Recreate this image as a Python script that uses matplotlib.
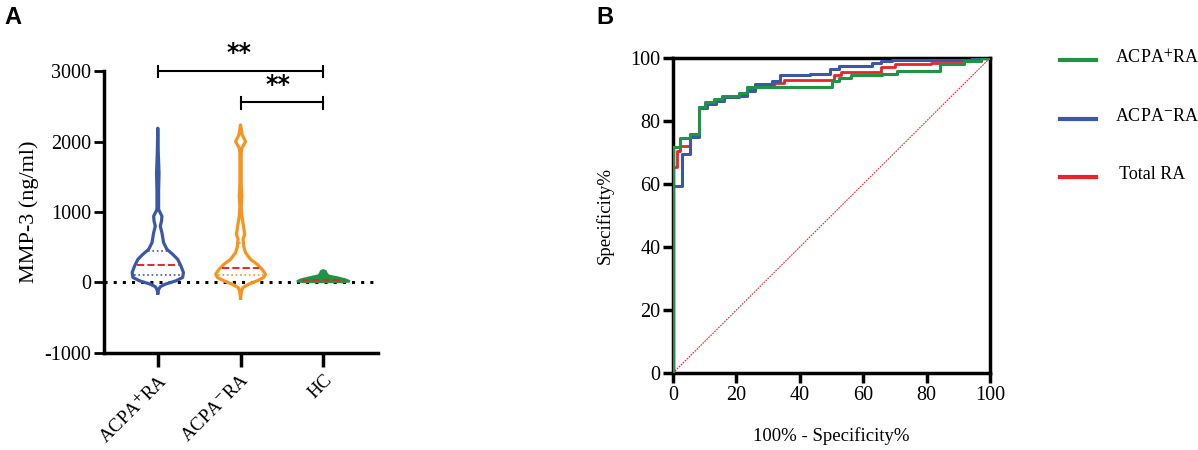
import matplotlib
matplotlib.use("Agg")
import matplotlib.pyplot as plt
from matplotlib.lines import Line2D
import numpy as np

plt.rcParams['font.family'] = ['Liberation Serif', 'DejaVu Serif']
plt.rcParams['mathtext.fontset'] = 'stix'
plt.rcParams['axes.unicode_minus'] = False

# ---- panel A data: violin outlines (value, half width in category units) ----
groups = ['ACPA$^{+}$RA', 'ACPA$^{-}$RA', 'HC']

pos_vals = [-150, -100, -60, -24, 24, 71, 141, 235, 329, 400, 471, 565, 706, 800, 870, 941, 1035, 1300, 1553, 1836, 2189]
pos_hw = [0.0, 0.01, 0.03, 0.09, 0.22, 0.30, 0.31, 0.28, 0.24, 0.18, 0.11, 0.07, 0.05, 0.03, 0.045, 0.05, 0.01, 0.01, 0.015, 0.006, 0.0]

neg_vals = [-220, -118, -71, -24, 24, 71, 118, 188, 259, 329, 424, 500, 565, 612, 683, 800, 950, 1083, 1224, 1400, 1836, 1906, 2000, 2095, 2236]
neg_hw = [0.0, 0.012, 0.03, 0.10, 0.20, 0.28, 0.30, 0.26, 0.20, 0.12, 0.06, 0.04, 0.035, 0.03, 0.05, 0.035, 0.015, 0.008, 0.016, 0.008, 0.008, 0.016, 0.06, 0.02, 0.0]

hc_vals = [5, 15, 40, 70, 100, 130, 160, 175]
hc_hw = [0.24, 0.32, 0.28, 0.18, 0.06, 0.04, 0.03, 0.0]

medians = [245, 202, 40]
q1 = [108, 108, 25]
q3 = [447, 565, 70]

# ---- panel B data: ROC step corners (100% - specificity, sensitivity) ----
pos_x = [0, 0, 2.3, 5.3, 8.1, 10.2, 12.8, 15.5, 20.7, 23.3, 50.2, 52.3, 56.0, 66.0, 70.7, 84.3, 91.7, 97.0, 100]
pos_y = [0, 71.7, 74.6, 75.9, 84.6, 86.1, 87.0, 88.0, 89.0, 90.9, 92.7, 93.8, 94.5, 95.0, 96.0, 98.0, 99.0, 100, 100]

neg_x = [0, 0, 2.8, 5.5, 8.1, 10.8, 13.4, 16.0, 20.7, 23.3, 26.0, 31.2, 33.8, 43.3, 49.6, 52.3, 62.8, 65.5, 69.0, 94.3, 100]
neg_y = [0, 59.3, 69.4, 75.0, 84.0, 85.5, 86.5, 87.5, 88.0, 89.5, 91.7, 92.7, 94.5, 95.0, 96.6, 97.5, 98.3, 99.2, 99.5, 100, 100]

tot_x = [0, 0, 1.3, 2.3, 5.5, 8.1, 10.5, 13.0, 16.0, 20.7, 23.3, 26.0, 31.8, 35.0, 50.8, 53.0, 65.7, 70.0, 81.4, 91.7, 97.0, 100]
tot_y = [0, 65.4, 70.6, 72.0, 75.5, 84.5, 85.8, 86.8, 87.8, 88.5, 90.3, 91.0, 92.0, 93.0, 94.5, 95.5, 97.0, 98.0, 98.5, 99.5, 100, 100]

roc_labels = ['ACPA$^{+}$RA', 'ACPA$^{-}$RA', ' Total RA']

blue = '#3b58a8'
orange = '#f7941d'
green = '#1f9447'
red = '#ec2227'

fig = plt.figure(figsize=(11.98, 4.5), dpi=100)

# ================= panel A =================
axA = fig.add_axes([0.0868, 0.2156, 0.2287, 0.6266])
outline = [(pos_vals, pos_hw, blue, False), (neg_vals, neg_hw, orange, False), (hc_vals, hc_hw, green, True)]
for i, (v, hw, col, filled) in enumerate(outline):
    v = np.array(v, float)
    hw = np.array(hw, float)
    xs = np.concatenate([i - hw, (i + hw)[::-1], [i - hw[0]]])
    ys = np.concatenate([v, v[::-1], [v[0]]])
    if filled:
        axA.fill(xs, ys, color=col, lw=1.5, zorder=3)
    else:
        axA.plot(xs, ys, color=col, lw=2.3, zorder=3, solid_joinstyle='round')
    # quartile lines across the violin at that level
    for q, style, qc in [(q1[i], ':', col), (medians[i], '--', red), (q3[i], ':', col)]:
        w = np.interp(q, v, hw) - 0.02
        if w > 0:
            axA.plot([i - w, i + w], [q, q], ls=style, color=qc, lw=1.2 if style == ':' else 1.4, zorder=4)

axA.axhline(0, color='black', ls=(0, (1, 2)), lw=2.2, zorder=2)
axA.set_xlim(-0.65, 2.66)
axA.set_ylim(-1000, 3000)
axA.set_yticks([-1000, 0, 1000, 2000, 3000])
axA.set_xticks(range(3))
axA.set_xticklabels(groups, rotation=45, ha='right', rotation_mode='anchor', fontsize=13.5)
axA.set_ylabel('MMP-3 (ng/ml)', fontsize=16)
axA.tick_params(axis='y', labelsize=14.5, width=2, length=7, pad=2)
axA.tick_params(axis='x', width=2.5, length=10, pad=3)
for s in ['top', 'right']:
    axA.spines[s].set_visible(False)
for s in ['left', 'bottom']:
    axA.spines[s].set_linewidth(2.5)

# significance brackets
for (a, b, y, ys) in [(0, 2, 3000, 3250), (1, 2, 2556, 2800)]:
    axA.plot([a, b], [y, y], color='black', lw=1.5, clip_on=False)
    for xx in (a, b):
        axA.plot([xx, xx], [y - 90, y + 70], color='black', lw=1.5, clip_on=False)
    axA.text((a + b) / 2 + (-0.02 if a == 0 else -0.05), ys, '**', ha='center', va='center',
             fontsize=17, fontweight='bold', family='DejaVu Sans')

fig.text(0.004, 0.96, 'A', fontsize=17, fontweight='bold', family='Liberation Sans', va='center')

# ================= panel B =================
axB = fig.add_axes([0.5618, 0.1711, 0.2646, 0.70])
axB.plot([0, 100], [0, 100], color=red, ls=(0, (1.5, 1)), lw=0.8, zorder=1)
axB.step(tot_x, tot_y, where='post', color=red, lw=2.0, zorder=3)
axB.step(neg_x, neg_y, where='post', color=blue, lw=2.2, zorder=4)
axB.step(pos_x, pos_y, where='post', color=green, lw=2.2, zorder=5)
axB.set_xlim(0, 100)
axB.set_ylim(0, 100)
axB.set_xticks(range(0, 101, 20))
axB.set_yticks(range(0, 101, 20))
axB.tick_params(labelsize=14.5, width=2.5, length=7, pad=2)
for s in axB.spines.values():
    s.set_linewidth(2.5)
    s.set_zorder(2)
axB.set_xlabel('100% - Specificity%', fontsize=13.5, labelpad=16)
axB.set_ylabel('Specificity%', fontsize=13.5, labelpad=12)

fig.text(0.498, 0.96, 'B', fontsize=17, fontweight='bold', family='Liberation Sans', va='center')

# legend drawn beside panel B
for k, (lab, col) in enumerate(zip(roc_labels, [green, blue, red])):
    yy = 1 - (60 + 58.5 * k) / 450
    fig.add_artist(Line2D([1060 / 1198, 1096 / 1198], [yy, yy], color=col, lw=3))
    fig.text(1115 / 1198, yy + 0.005, lab, fontsize=13, va='center')

fig.savefig('out.png', dpi=100)
